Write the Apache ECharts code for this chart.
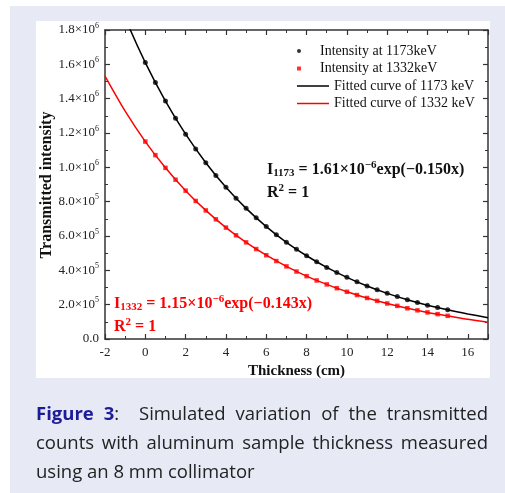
<!DOCTYPE html>
<html>
<head>
    <meta charset="utf-8"/>
    <script src="https://cdn.jsdelivr.net/npm/echarts@6/dist/echarts.min.js"></script>
    <style>
        body { margin: 0; background: #fff; }
        #main { position: absolute; left: 0; top: 0; width: 505px; height: 493px; }
        #caption {
            position: absolute; left: 36px; top: 398px; width: 452px;
            font-family: "Open Sans", "Noto Sans", sans-serif; font-size: 18.5px;
            line-height: 29px; color: #222; white-space: nowrap;
        }
        #caption div.j { text-align: justify; text-align-last: justify; }
        #caption b { color: #1c1c99; }
    </style>
</head>
<body>
<div id="main"></div>
<div id="caption">
    <div class="j"><b>Figure 3</b>:&nbsp; Simulated variation of the transmitted</div>
    <div class="j">counts with aluminum sample thickness measured</div>
    <div>using an 8 mm collimator</div>
</div>
<script type="text/javascript">
    // 数据：厚度 (cm) 与透射强度
    var thickness = [0, 0.5, 1, 1.5, 2, 2.5, 3, 3.5, 4, 4.5, 5, 5.5, 6, 6.5, 7, 7.5,
        8, 8.5, 9, 9.5, 10, 10.5, 11, 11.5, 12, 12.5, 13, 13.5, 14, 14.5, 15];
    var int1173 = [1.610e6, 1.494e6, 1.386e6, 1.286e6, 1.193e6, 1.107e6, 1.027e6, 0.952e6,
        0.884e6, 0.820e6, 0.761e6, 0.706e6, 0.655e6, 0.607e6, 0.563e6, 0.523e6,
        0.485e6, 0.450e6, 0.417e6, 0.387e6, 0.359e6, 0.333e6, 0.309e6, 0.287e6,
        0.266e6, 0.247e6, 0.229e6, 0.213e6, 0.197e6, 0.183e6, 0.170e6];
    var int1332 = [1.150e6, 1.071e6, 0.997e6, 0.928e6, 0.864e6, 0.804e6, 0.749e6, 0.697e6,
        0.649e6, 0.604e6, 0.563e6, 0.524e6, 0.488e6, 0.454e6, 0.423e6, 0.393e6,
        0.366e6, 0.341e6, 0.318e6, 0.296e6, 0.275e6, 0.256e6, 0.239e6, 0.222e6,
        0.207e6, 0.193e6, 0.179e6, 0.167e6, 0.155e6, 0.145e6, 0.135e6];
    // 拟合曲线
    var fitX = [-2, -1, 0, 1, 2, 3, 4, 5, 6, 7, 8, 9, 10, 11, 12, 13, 14, 15, 16, 17];
    var fit1173 = [2.173e6, 1.871e6, 1.610e6, 1.386e6, 1.193e6, 1.027e6, 0.884e6, 0.761e6,
        0.655e6, 0.563e6, 0.485e6, 0.417e6, 0.359e6, 0.309e6, 0.266e6, 0.229e6,
        0.197e6, 0.170e6, 0.146e6, 0.124e6];
    var fit1332 = [1.531e6, 1.327e6, 1.150e6, 0.997e6, 0.864e6, 0.749e6, 0.649e6, 0.563e6,
        0.488e6, 0.423e6, 0.366e6, 0.318e6, 0.275e6, 0.239e6, 0.207e6, 0.179e6,
        0.155e6, 0.135e6, 0.115e6, 0.098e6];
    var seriesNames = ['Intensity at 1173keV', 'Intensity at 1332keV',
        'Fitted curve of 1173 keV', 'Fitted curve of 1332 keV'];

    function zip(xs, ys) {
        return xs.map(function (x, i) { return [x, ys[i]]; });
    }

    var serif = 'Liberation Serif';
    var axisColor = '#333';

    var myChart = echarts.init(document.getElementById('main'));

    var tickCommon = {
        axisLine: {show: true, onZero: false, lineStyle: {color: axisColor, width: 1.5}},
        axisTick: {show: true, inside: true, length: 5, lineStyle: {color: axisColor, width: 1.2}},
        minorTick: {show: true, splitNumber: 2, length: 3, lineStyle: {color: axisColor, width: 1}},
        splitLine: {show: false}
    };

    function yLabel(v) {
        if (v === 0) return '{m|0.0}';
        var e = Math.floor(Math.log10(v) + 1e-9);
        var m = (v / Math.pow(10, e)).toFixed(1);
        return '{m|' + m + '×10}{s|' + e + '}';
    }

    function eqRich(color) {
        return {
            b: {fontFamily: serif, fontWeight: 'bold', fontSize: 16, fill: color, lineHeight: 23},
            sub: {fontFamily: serif, fontWeight: 'bold', fontSize: 11, fill: color, padding: [8, 0, 0, 0]},
            sup: {fontFamily: serif, fontWeight: 'bold', fontSize: 11, fill: color, padding: [0, 0, 8, 0]}
        };
    }

    option = {
        animation: false,
        graphic: [
            {type: 'rect', z: -10, silent: true, shape: {x: 10, y: 6, width: 495, height: 487}, style: {fill: '#e7eaf5'}},
            {type: 'rect', z: -9, silent: true, shape: {x: 36, y: 21, width: 454, height: 357}, style: {fill: '#fff'}},
            // y 轴标题
            {
                type: 'text', x: 47, y: 185, rotation: Math.PI / 2, z: 10,
                style: {
                    text: 'Transmitted intensity', align: 'center', verticalAlign: 'middle',
                    fontFamily: serif, fontWeight: 'bold', fontSize: 16, fill: '#111'
                }
            },
            {
                type: 'text', left: 267, top: 160, z: 10,
                style: {
                    text: '{b|I}{sub|1173}{b| = 1.61×10}{sup|−6}{b|exp(−0.150x)}\n{b|R}{sup|2}{b| = 1}',
                    rich: eqRich('#111')
                }
            },
            {
                type: 'text', left: 114, top: 294, z: 10,
                style: {
                    text: '{b|I}{sub|1332}{b| = 1.15×10}{sup|−6}{b|exp(−0.143x)}\n{b|R}{sup|2}{b| = 1}',
                    rich: eqRich('#f00')
                }
            }
        ],
        legend: [{
            data: [
                {name: seriesNames[0], icon: 'circle'},
                {name: seriesNames[1], icon: 'path://M0,0h1v1h-1z'}
            ],
            orient: 'vertical', left: 297, top: 43, padding: 0,
            itemWidth: 32, itemHeight: 4, itemGap: 1.5, symbolKeepAspect: true,
            textStyle: {fontFamily: serif, fontSize: 14, color: '#111', lineHeight: 16}
        }, {
            data: [
                {name: seriesNames[2], icon: 'rect'},
                {name: seriesNames[3], icon: 'rect'}
            ],
            orient: 'vertical', left: 297, top: 78, padding: 0,
            itemWidth: 32, itemHeight: 1.5, itemGap: 1.5,
            textStyle: {fontFamily: serif, fontSize: 14, color: '#111', lineHeight: 16}
        }],
        grid: {left: 105, top: 30, right: 17, bottom: 154},
        xAxis: [Object.assign({
            type: 'value', min: -2, max: 17, interval: 2,
            name: 'Thickness (cm)', nameLocation: 'middle', nameGap: 25,
            nameTextStyle: {fontFamily: serif, fontWeight: 'bold', fontSize: 15, color: '#111'},
            axisLabel: {fontFamily: serif, fontSize: 13, color: '#222', margin: 7, showMaxLabel: false}
        }, tickCommon), Object.assign({
            type: 'value', min: -2, max: 17, interval: 2, position: 'top',
            axisLabel: {show: false}
        }, tickCommon)],
        yAxis: [Object.assign({
            type: 'value', min: 0, max: 1.8e6, interval: 2e5,
            axisLabel: {
                margin: 6, formatter: yLabel,
                rich: {
                    m: {fontFamily: serif, fontSize: 13, color: '#222'},
                    s: {fontFamily: serif, fontSize: 8, color: '#222', padding: [0, 0, 9, 0]}
                }
            }
        }, tickCommon), Object.assign({
            type: 'value', min: 0, max: 1.8e6, interval: 2e5, position: 'right',
            axisLabel: {show: false}
        }, tickCommon)],
        series: [
            {
                name: seriesNames[0], type: 'scatter', z: 5,
                symbol: 'circle', symbolSize: 5, itemStyle: {color: '#000'},
                data: zip(thickness, int1173)
            },
            {
                name: seriesNames[1], type: 'scatter', z: 5,
                symbol: 'rect', symbolSize: 4.5, itemStyle: {color: '#f00'},
                data: zip(thickness, int1332)
            },
            {
                name: seriesNames[2], type: 'line', smooth: 0.3, showSymbol: false,
                lineStyle: {color: '#000', width: 1.5}, itemStyle: {color: '#000'},
                data: zip(fitX, fit1173)
            },
            {
                name: seriesNames[3], type: 'line', smooth: 0.3, showSymbol: false,
                lineStyle: {color: '#f00', width: 1.5}, itemStyle: {color: '#f00'},
                data: zip(fitX, fit1332)
            }
        ]
    };

    myChart.setOption(option);
</script>
</body>
</html>
